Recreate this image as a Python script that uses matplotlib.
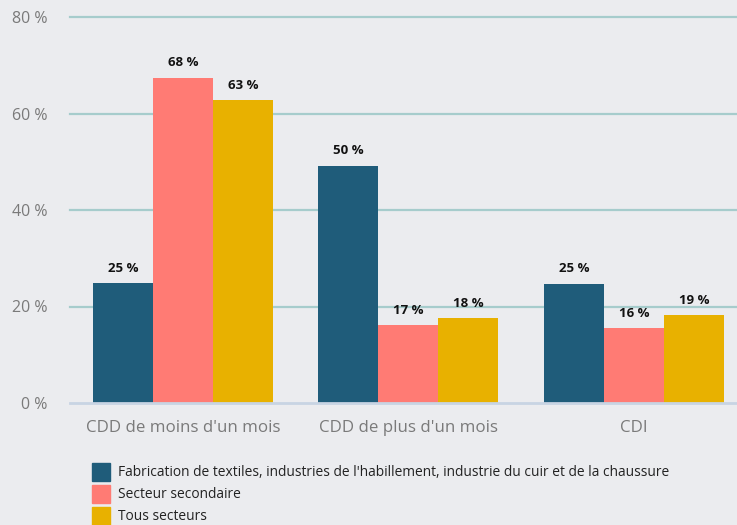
import matplotlib
matplotlib.use("Agg")
import matplotlib.pyplot as plt
import numpy as np
from matplotlib.patches import Rectangle

categories = ["CDD de moins d'un mois", "CDD de plus d'un mois", "CDI"]
series_names = ["Fabrication de textiles, industries de l'habillement, industrie du cuir et de la chaussure",
                "Secteur secondaire", "Tous secteurs"]
textile = [24.9, 49.2, 24.7]
secondaire = [67.4, 16.2, 15.5]
tous = [62.8, 17.6, 18.2]
textile_labels = ["25 %", "50 %", "25 %"]
secondaire_labels = ["68 %", "17 %", "16 %"]
tous_labels = ["63 %", "18 %", "19 %"]
yticks = [0, 20, 40, 60, 80]
ytick_labels = ["0 %", "20 %", "40 %", "60 %", "80 %"]

colors = ["#1f5c7a", "#ff7b74", "#e8b100"]
bg = "#ebecef"

fig = plt.figure(figsize=(7.37, 5.25), dpi=100, facecolor=bg)
ax = fig.add_axes([70/737, 1-403/525, 1-70/737, (403-17)/525])
ax.set_facecolor(bg)

x = np.arange(len(categories))
w = 60/225.5
data = [textile, secondaire, tous]
labels = [textile_labels, secondaire_labels, tous_labels]
for i, (vals, labs) in enumerate(zip(data, labels)):
    pos = x + (i-1)*w
    ax.bar(pos, vals, width=w, color=colors[i], zorder=3, label=series_names[i])
    for p, v, l in zip(pos, vals, labs):
        ax.annotate(l, (p, v), xytext=(0, 6), textcoords="offset points",
                    ha="center", va="bottom", fontsize=9.5, fontweight="bold",
                    color="#111111", family="Open Sans")

ax.set_xlim(-0.501, 2.457)
ax.set_ylim(0, 80)
ax.set_yticks(yticks)
ax.set_yticklabels(ytick_labels)
ax.set_xticks(x)
ax.set_xticklabels(categories)
for s in ax.spines.values():
    s.set_visible(False)
for yv in yticks[1:]:
    ax.axhline(yv, color="#a6cccc", linewidth=1.6, zorder=0, clip_on=False)
ax.axhline(0, color="#c8d4e3", linewidth=2, zorder=4, clip_on=False)
ax.tick_params(axis="both", length=0, colors="#777777")
ax.tick_params(axis="y", pad=16.5, labelsize=11.5)
ax.tick_params(axis="x", pad=12, labelsize=12.2)
for t in ax.get_xticklabels() + ax.get_yticklabels():
    t.set_family("Open Sans")
    t.set_color("#7a7a7a")

# legend
ys = [472, 494, 516]
for i, yy in enumerate(ys):
    fig.patches.append(Rectangle((92/737, 1-(yy+9)/525), 18/737, 18/525,
                                 transform=fig.transFigure, color=colors[i], figure=fig))
    fig.text(118/737, 1-yy/525, series_names[i], ha="left", va="center",
             fontsize=9.9, color="#222222", family="Open Sans")

fig.savefig("out.png", dpi=100, facecolor=bg)
